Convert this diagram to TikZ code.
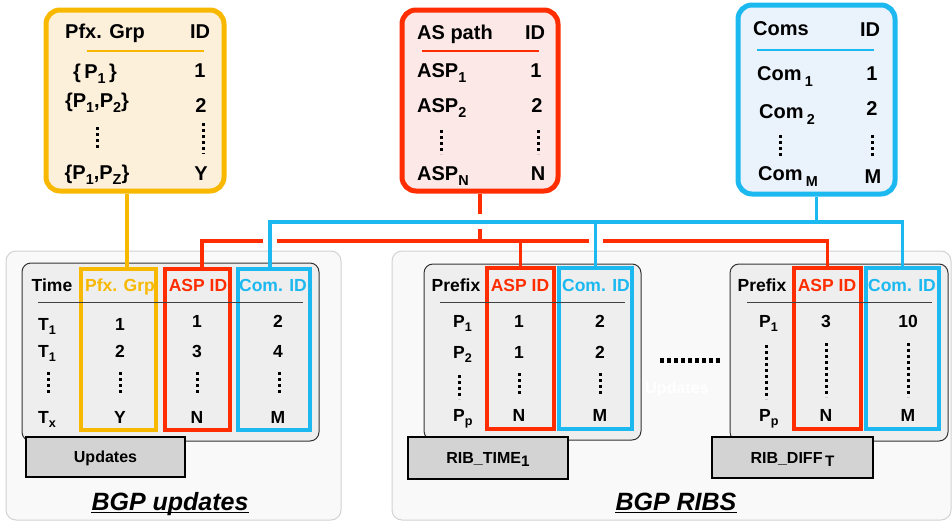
\documentclass[tikz,border=0pt]{standalone}
\usepackage{fontspec}
\usepackage{graphicx}
\setmainfont{Liberation Sans}
\usetikzlibrary{fit}
\definecolor{yel}{HTML}{F8B800}
\definecolor{yelfill}{HTML}{FDF0DB}
\definecolor{rd}{HTML}{FF2D00}
\definecolor{rdfill}{HTML}{FCE8E6}
\definecolor{bl}{HTML}{1CB8F0}
\definecolor{blfill}{HTML}{EAF2FB}
\definecolor{panelfill}{HTML}{F9F9F9}
\definecolor{panelline}{HTML}{D2D2D2}
\definecolor{tblfill}{HTML}{EEEEEE}
\definecolor{lblfill}{HTML}{D3D3D3}
\newcommand\sbx[1]{\raisebox{-0.25em}{\scalebox{0.72}{#1}}}
\newcommand\sbl[1]{\,\raisebox{-0.32em}{\scalebox{0.72}{#1}}}
\newcommand\sbr[1]{\raisebox{-0.2em}{\scalebox{0.95}{#1}}}
\tikzset{
  panelbox/.style={draw=panelline, fill=panelfill, line width=1pt, rounded corners=10pt, inner sep=0pt},
  topbox/.style={line width=5pt, rounded corners=14pt, inner sep=0pt},
  tblbox/.style={draw=black!80, fill=tblfill, line width=1pt, rounded corners=9pt, inner sep=0pt},
  colbox/.style={line width=3.5pt, inner sep=0pt},
  lblbox/.style={draw=black, fill=lblfill, line width=1.5pt, inner sep=0pt, text depth=0pt,
     font=\fontsize{16}{18}\selectfont\bfseries},
  tA/.style={font=\fontsize{20}{22}\selectfont\bfseries, inner sep=0pt, anchor=base},
  tB/.style={font=\fontsize{17.5}{20}\selectfont\bfseries, inner sep=0pt, anchor=base},
  hline/.style={draw=black!75, line width=0.8pt},
  dotcol/.style={line width=3pt, dash pattern=on 3pt off 3pt},
  yline/.style={draw=yel, line width=3.5pt},
  rline/.style={draw=rd, line width=3.5pt},
  bline/.style={draw=bl, line width=3.5pt},
  gap/.style={draw=white, line width=6pt},
  title/.style={font=\fontsize{25}{28}\selectfont\bfseries\itshape, inner sep=0pt, anchor=base}
}
\begin{document}
\begin{tikzpicture}[x=1pt,y=-1pt]
\useasboundingbox (0,0) rectangle (952,522);

% panels
\node[panelbox, fit={(6,251)(341,520)}] (pnlU) {};
\node[panelbox, fit={(392,251)(951,520)}] (pnlR) {};

% top boxes
\node[topbox, draw=yel, fill=yelfill, fit={(46,10)(224,191)}] (pfxbox) {};
\node[topbox, draw=rd, fill=rdfill, fit={(402,10)(558,191)}] (aspbox) {};
\node[topbox, draw=bl, fill=blfill, fit={(738,5)(895,194)}] (comsbox) {};

% inner tables
\node[tblbox, fit={(22,263)(319,441)}] (tU) {};
\node[tblbox, fit={(424,264)(641,440)}] (tT) {};
\node[tblbox, fit={(730,264)(948,441)}] (tD) {};

% column boxes
\node[colbox, draw=yel, fit={(81,269)(156,430)}] (uP) {};
\node[colbox, draw=rd, fit={(165,269)(230,430)}] (uA) {};
\node[colbox, draw=bl, fit={(238,269)(310,430)}] (uC) {};
\node[colbox, draw=rd, fit={(487,268)(554,429)}] (tA) {};
\node[colbox, draw=bl, fit={(559,268)(632,429)}] (tC) {};
\node[colbox, draw=rd, fit={(794,268)(861,429)}] (dA) {};
\node[colbox, draw=bl, fit={(866,268)(939,429)}] (dC) {};

% ---- top yellow box
\node[tA] (ph) at (105,38) {Pfx. Grp};
\node[tA] (pid) at (200,38) {ID};
\draw[yel, line width=1.5pt] (87,51) -- (204,51);
\node[tA] (pr1) at (95,78) {\{\,P\sbx{1}\,\}};
\node[tA] (pi1) at (200,77) {1};
\node[tA] (pr2) at (97,107) {\{P\sbx{1},P\sbx{2}\}};
\node[tA] (pi2) at (201,112) {2};
\draw[dotcol] (97,127) -- (97,151);
\draw[dotcol] (203,123) -- (203,154);
\node[tA] (prz) at (97,179) {\{P\sbx{1},P\sbx{Z}\}};
\node[tA] (piy) at (201,180) {Y};

% ---- top red box
\node[tA, anchor=base west] (ah) at (417,39) {AS path};
\node[tA] (aid) at (535,39) {ID};
\draw[rd, line width=1.5pt] (422,51) -- (539,51);
\node[tA, anchor=base west] (ar1) at (417,77) {ASP\sbx{1}};
\node[tA] (ai1) at (536,77) {1};
\node[tA, anchor=base west] (ar2) at (417,112) {ASP\sbx{2}};
\node[tA] (ai2) at (537,112) {2};
\draw[dotcol] (441,130) -- (441,154);
\draw[dotcol] (538,130) -- (538,154);
\node[tA, anchor=base west] (arn) at (417,180) {ASP\sbx{N}};
\node[tA] (ain) at (538,180) {N};

% ---- top blue box
\node[tA, anchor=base west] (ch) at (753,35) {Coms};
\node[tA] (cid) at (870,36) {ID};
\draw[bl, line width=1.5pt] (757,50) -- (874,50);
\node[tA, anchor=base west] (cr1) at (757,80) {Com\sbl{1}};
\node[tA] (ci1) at (872,80) {1};
\node[tA, anchor=base west] (cr2) at (759,118) {Com\sbl{2}};
\node[tA] (ci2) at (872,115) {2};
\draw[dotcol] (780,135) -- (780,159);
\draw[dotcol] (872,135) -- (872,159);
\node[tA, anchor=base west] (crm) at (758,180) {Com\sbl{M}};
\node[tA] (cim) at (873,183) {M};

% ---- left table (updates)
\node[tB] at (52,291) {Time};
\node[tB, text=yel] at (120,291) {Pfx. Grp};
\node[tB, text=rd] at (198,291) {ASP ID};
\node[tB, text=bl] at (273,291) {Com. ID};
\draw[hline] (38,302) -- (303,302);
\node[tB, anchor=base west] at (38,330) {T\sbx{1}};
\node[tB, anchor=base west] at (38,357) {T\sbx{1}};
\node[tB, anchor=base west] at (38,423) {T\sbx{x}};
\node[tB] at (120,330) {1};
\node[tB] at (120,357) {2};
\node[tB] at (120,423) {Y};
\node[tB] at (197,327) {1};
\node[tB] at (197,357) {3};
\node[tB] at (197,423) {N};
\node[tB] at (278,327) {2};
\node[tB] at (278,357) {4};
\node[tB] at (278,423) {M};
\draw[dotcol] (48,372) -- (48,396);
\draw[dotcol] (120,372) -- (120,396);
\draw[dotcol] (197,372) -- (197,396);
\draw[dotcol] (279,372) -- (279,396);

% ---- middle table (RIB_TIME)
\node[tB] at (456,291) {Prefix};
\node[tB, text=rd] at (520,291) {ASP ID};
\node[tB, text=bl] at (596,291) {Com. ID};
\draw[hline] (440,302) -- (625,302);
\node[tB, anchor=base west] at (453,327) {P\sbx{1}};
\node[tB, anchor=base west] at (453,358) {P\sbx{2}};
\node[tB, anchor=base west] at (453,421) {P\sbx{p}};
\node[tB] at (519,327) {1};
\node[tB] at (519,358) {1};
\node[tB] at (519,421) {N};
\node[tB] at (600,327) {2};
\node[tB] at (600,358) {2};
\node[tB] at (600,421) {M};
\draw[dotcol] (459,375) -- (459,399);
\draw[dotcol] (519,373) -- (519,397);
\draw[dotcol] (600,373) -- (600,397);

% ---- right table (RIB_DIFF)
\node[tB] at (762,291) {Prefix};
\node[tB, text=rd] at (827,291) {ASP ID};
\node[tB, text=bl] at (902,291) {Com. ID};
\draw[hline] (747,302) -- (932,302);
\node[tB, anchor=base west] at (759,327) {P\sbx{1}};
\node[tB, anchor=base west] at (759,421) {P\sbx{p}};
\node[tB] at (826,327) {3};
\node[tB] at (826,421) {N};
\node[tB] at (908,327) {10};
\node[tB] at (908,421) {M};
\draw[dotcol] (766,345) -- (766,399);
\draw[dotcol] (826,343) -- (826,397);
\draw[dotcol] (908,343) -- (908,397);

% horizontal dots and faint label
\draw[line width=5pt, dash pattern=on 4pt off 3pt] (660,360) -- (720,360);
\node[font=\fontsize{16}{18}\selectfont\bfseries, text=white, inner sep=0pt, anchor=base] (ghost) at (677,393) {Updates};

% label boxes
\node[lblbox, minimum width=159pt, minimum height=40pt] (lU) at (105.5,457) {Updates};
\node[lblbox, minimum width=160pt, minimum height=42pt] (lT) at (488,458) {RIB\_TIME\sbr{1}};
\node[lblbox, minimum width=161pt, minimum height=41pt] (lD) at (792.5,457.5) {RIB\_DIFF\,\sbr{T}};

% titles
\node[title] (bgpU) at (170,510) {BGP updates};
\draw[line width=1.8pt] ([yshift=-2.5pt]bgpU.base west) -- ([yshift=-2.5pt]bgpU.base east);
\node[title] (bgpR) at (676,510) {BGP RIBS};
\draw[line width=1.8pt] ([yshift=-2.5pt]bgpR.base west) -- ([yshift=-2.5pt]bgpR.base east);

% connectors
\coordinate (yx) at (127,0);
\coordinate (rx) at (202,0);
\coordinate (bx) at (270,0);
\coordinate (busR) at (0,241);
\coordinate (busB) at (0,222);
\draw[yline] (pfxbox.south -| yx) -- (uP.north -| yx);
\draw[rline] (aspbox.south) -- (aspbox.south |- busR);
\draw[rline] (uA.north -| rx) -- (rx |- busR) -- (dA.north |- busR) -- (dA.north);
\draw[rline] (tA.north |- busR) -- (tA.north);
% gaps in red where blue crosses
\draw[gap] (263,241) -- (277,241);
\draw[gap] (589,241) -- (603,241);
\draw[gap] (480,214) -- (480,229);
\draw[bline] (comsbox.south) -- (comsbox.south |- busB);
\draw[bline] (uC.north -| bx) -- (bx |- busB) -- (dC.north |- busB) -- (dC.north);
\draw[bline] (tC.north |- busB) -- (tC.north);
\end{tikzpicture}
\end{document}
